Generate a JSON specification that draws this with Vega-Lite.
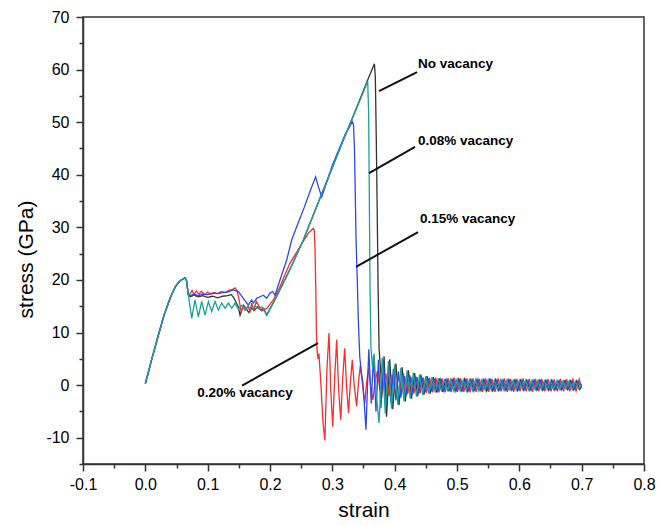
{
"$schema": "https://vega.github.io/schema/vega-lite/v6.json",
"width": 561, "height": 447,
"autosize": {"type": "none"},
"padding": {"left": 83, "top": 17, "right": 23, "bottom": 62},
"background": "white",
"config": {"view": {"stroke": "#333333", "strokeWidth": 1.5}, "font": "Liberation Sans"},
"datasets": {
"black": [{"x":0,"y":0.3},{"x":0.005,"y":2.5},{"x":0.01,"y":4.8},{"x":0.02,"y":9.1},{"x":0.03,"y":13.3},{"x":0.04,"y":16.6},{"x":0.048,"y":18.7},{"x":0.055,"y":19.8},{"x":0.0636,"y":20.4},{"x":0.066,"y":19.9},{"x":0.069,"y":17.2},
{"x":0.072,"y":16.8},{"x":0.078,"y":17.1},{"x":0.085,"y":16.8},{"x":0.092,"y":17.0},{"x":0.1,"y":16.7},{"x":0.108,"y":16.9},{"x":0.116,"y":16.6},{"x":0.124,"y":16.9},{"x":0.132,"y":17.0},{"x":0.138,"y":17.2},{"x":0.142,"y":16.6},{"x":0.146,"y":15.6},{"x":0.149,"y":14.9},{"x":0.152,"y":13.3},{"x":0.155,"y":14.4},{"x":0.158,"y":15.1},{"x":0.162,"y":14.5},{"x":0.166,"y":13.8},{"x":0.17,"y":14.7},{"x":0.175,"y":14.2},{"x":0.18,"y":14.9},{"x":0.185,"y":14.3},{"x":0.19,"y":14.6},{"x":0.1947,"y":13.3},{"x":0.21,"y":16.7},{"x":0.23,"y":21.5},{"x":0.2535,"y":27.6},{"x":0.28,"y":35.5},{"x":0.3,"y":41.4},{"x":0.32,"y":47.3},{"x":0.34,"y":53.1},{"x":0.3567,"y":58.0},{"x":0.3675,"y":61.1},{"x":0.369,"y":58.5},{"x":0.3705,"y":47},{"x":0.372,"y":33},{"x":0.3735,"y":18},{"x":0.375,"y":7},{"x":0.377,"y":3.5},{"x":0.38,"y":-1.5},{"x":0.383,"y":5.5},{"x":0.387,"y":-6.0},{"x":0.392,"y":4.9},{"x":0.397,"y":-4.6},{"x":0.402,"y":4.1},{"x":0.407,"y":-3.8},{"x":0.412,"y":3.4},{"x":0.417,"y":-3.1},{"x":0.422,"y":2.8},{"x":0.427,"y":-2.6},{"x":0.432,"y":2.3},{"x":0.437,"y":-2.1},{"x":0.442,"y":2.0},{"x":0.447,"y":-1.8},{"x":0.452,"y":1.7},{"x":0.457,"y":-1.6},{"x":0.462,"y":1.5},{"x":0.467,"y":-1.4},
{"x":0.472,"y":1.3},{"x":0.477,"y":-1.3},{"x":0.482,"y":1.2},{"x":0.487,"y":-1.2},{"x":0.492,"y":1.2},{"x":0.497,"y":-1.1},{"x":0.502,"y":1.1},{"x":0.507,"y":-1.2},{"x":0.512,"y":1.1},{"x":0.517,"y":-1.1},{"x":0.522,"y":1.0},{"x":0.527,"y":-1.1},{"x":0.532,"y":1.1},{"x":0.537,"y":-1.0},{"x":0.542,"y":1.0},{"x":0.547,"y":-1.1},{"x":0.552,"y":1.0},{"x":0.557,"y":-1.0},{"x":0.562,"y":1.0},{"x":0.567,"y":-1.0},{"x":0.572,"y":0.9},{"x":0.577,"y":-1.0},{"x":0.582,"y":1.0},{"x":0.587,"y":-0.9},{"x":0.592,"y":0.9},{"x":0.597,"y":-1.0},{"x":0.602,"y":0.9},{"x":0.607,"y":-0.9},{"x":0.612,"y":0.9},{"x":0.617,"y":-1.0},{"x":0.622,"y":0.9},{"x":0.627,"y":-0.9},{"x":0.632,"y":0.9},{"x":0.637,"y":-0.9},{"x":0.642,"y":0.8},{"x":0.647,"y":-0.9},{"x":0.652,"y":0.9},{"x":0.657,"y":-0.9},{"x":0.662,"y":0.8},{"x":0.667,"y":-0.9},{"x":0.672,"y":0.8},{"x":0.677,"y":-0.8},{"x":0.682,"y":0.8},{"x":0.687,"y":-0.9},{"x":0.692,"y":0.8},{"x":0.697,"y":-0.8},{"x":0.7,"y":0.0}],
"red": [{"x":0,"y":0.3},{"x":0.005,"y":2.5},{"x":0.01,"y":4.8},{"x":0.02,"y":9.1},{"x":0.03,"y":13.3},{"x":0.04,"y":16.6},{"x":0.048,"y":18.7},{"x":0.055,"y":19.8},{"x":0.0636,"y":20.4},{"x":0.066,"y":19.9},{"x":0.069,"y":17.2},
{"x":0.072,"y":17.4},{"x":0.075,"y":18.0},{"x":0.078,"y":17.2},{"x":0.082,"y":17.9},{"x":0.086,"y":17.3},{"x":0.09,"y":17.8},{"x":0.095,"y":17.2},{"x":0.1,"y":17.7},{"x":0.105,"y":17.3},{"x":0.11,"y":17.6},{"x":0.116,"y":17.4},{"x":0.122,"y":17.8},{"x":0.128,"y":17.6},{"x":0.134,"y":18.0},{"x":0.14,"y":18.2},{"x":0.144,"y":18.5},{"x":0.147,"y":18.0},{"x":0.15,"y":16.5},{"x":0.1537,"y":14.0},{"x":0.1575,"y":15.2},{"x":0.161,"y":14.3},{"x":0.1645,"y":15.0},{"x":0.168,"y":14.0},{"x":0.1706,"y":15.6},{"x":0.174,"y":14.3},{"x":0.178,"y":15.9},{"x":0.1866,"y":14.1},{"x":0.195,"y":14.6},{"x":0.2053,"y":16.2},{"x":0.216,"y":18.7},{"x":0.232,"y":23.2},{"x":0.248,"y":26.3},{"x":0.2615,"y":28.9},{"x":0.2695,"y":29.8},{"x":0.271,"y":29.4},{"x":0.2722,"y":26},{"x":0.2735,"y":18},{"x":0.2745,"y":10},{"x":0.2755,"y":6.7},{"x":0.277,"y":5.0},{"x":0.2785,"y":6.0},{"x":0.2815,"y":0.5},{"x":0.285,"y":-7},{"x":0.288,"y":-10.5},{"x":0.2915,"y":3.5},{"x":0.2947,"y":9.9},{"x":0.2975,"y":-1},{"x":0.3006,"y":-7.9},{"x":0.304,"y":2},{"x":0.307,"y":8.6},{"x":0.31,"y":-0.5},{"x":0.3134,"y":-6.6},{"x":0.3165,"y":1},{"x":0.3198,"y":7.0},{"x":0.323,"y":-0.5},{"x":0.326,"y":-5.3},{"x":0.329,"y":0.5},{"x":0.332,"y":4.8},{"x":0.3355,"y":-0.5},{"x":0.339,"y":-4.0},{"x":0.342,"y":0.5},{"x":0.345,"y":3.8},{"x":0.3485,"y":0},{"x":0.352,"y":-3.5},{"x":0.355,"y":0.5},{"x":0.358,"y":3.2},{"x":0.3615,"y":-0.3},{"x":0.365,"y":-2.8},{"x":0.3685,"y":0.4},{"x":0.372,"y":2.6},{"x":0.3755,"y":-0.2},{"x":0.379,"y":-2.4},{"x":0.3825,"y":0.3},{"x":0.386,"y":2.2},{"x":0.391,"y":-2.1},{"x":0.396,"y":2.0},{"x":0.401,"y":-1.9},{"x":0.406,"y":1.8},{"x":0.411,"y":-1.7},{"x":0.416,"y":1.7},{"x":0.421,"y":-1.6},{"x":0.426,"y":1.6},
{"x":0.431,"y":-1.5},{"x":0.436,"y":1.5},{"x":0.441,"y":-1.5},{"x":0.446,"y":1.4},{"x":0.451,"y":-1.5},{"x":0.456,"y":1.4},{"x":0.461,"y":-1.4},{"x":0.466,"y":1.4},{"x":0.471,"y":-1.4},{"x":0.476,"y":1.3},{"x":0.481,"y":-1.4},{"x":0.486,"y":1.3},{"x":0.491,"y":-1.3},{"x":0.496,"y":1.4},{"x":0.501,"y":-1.3},{"x":0.506,"y":1.3},{"x":0.511,"y":-1.3},{"x":0.516,"y":1.3},{"x":0.521,"y":-1.4},{"x":0.526,"y":1.3},{"x":0.531,"y":-1.3},{"x":0.536,"y":1.2},{"x":0.541,"y":-1.3},{"x":0.546,"y":1.3},{"x":0.551,"y":-1.3},{"x":0.556,"y":1.2},{"x":0.561,"y":-1.3},{"x":0.566,"y":1.3},{"x":0.571,"y":-1.2},{"x":0.576,"y":1.3},{"x":0.581,"y":-1.3},{"x":0.586,"y":1.2},{"x":0.591,"y":-1.3},{"x":0.596,"y":1.2},{"x":0.601,"y":-1.2},{"x":0.606,"y":1.3},{"x":0.611,"y":-1.2},{"x":0.616,"y":1.2},{"x":0.621,"y":-1.3},{"x":0.626,"y":1.2},{"x":0.631,"y":-1.2},{"x":0.636,"y":1.2},{"x":0.641,"y":-1.2},{"x":0.646,"y":1.2},{"x":0.651,"y":-1.2},{"x":0.656,"y":1.1},{"x":0.661,"y":-1.2},{"x":0.666,"y":1.2},{"x":0.671,"y":-1.2},{"x":0.676,"y":1.1},{"x":0.681,"y":-1.2},{"x":0.686,"y":1.1},{"x":0.691,"y":-1.1},{"x":0.696,"y":1.1},{"x":0.7,"y":-0.6}],
"blue": [{"x":0,"y":0.3},{"x":0.005,"y":2.5},{"x":0.01,"y":4.8},{"x":0.02,"y":9.1},{"x":0.03,"y":13.3},{"x":0.04,"y":16.6},{"x":0.048,"y":18.7},{"x":0.055,"y":19.8},{"x":0.0636,"y":20.4},{"x":0.066,"y":19.9},{"x":0.069,"y":17.2},
{"x":0.072,"y":17.0},{"x":0.078,"y":17.3},{"x":0.085,"y":17.0},{"x":0.092,"y":17.3},{"x":0.1,"y":17.2},{"x":0.108,"y":17.5},{"x":0.116,"y":17.4},{"x":0.124,"y":17.6},{"x":0.132,"y":17.7},{"x":0.141,"y":18.1},{"x":0.1492,"y":17.8},{"x":0.1572,"y":16.5},{"x":0.1652,"y":15.2},{"x":0.1706,"y":16.2},{"x":0.1733,"y":15.6},{"x":0.1787,"y":16.5},{"x":0.184,"y":16.8},{"x":0.1893,"y":17.1},{"x":0.1947,"y":16.5},{"x":0.2,"y":17.5},{"x":0.2043,"y":17.8},{"x":0.208,"y":17.1},{"x":0.216,"y":20.0},{"x":0.2268,"y":23.8},{"x":0.2348,"y":27.6},{"x":0.245,"y":30.8},{"x":0.255,"y":33.8},{"x":0.265,"y":37.1},{"x":0.2733,"y":39.6},{"x":0.2776,"y":37.7},{"x":0.283,"y":35.8},{"x":0.3,"y":41.8},{"x":0.32,"y":47.5},{"x":0.332,"y":50.1},{"x":0.334,"y":49.5},{"x":0.3355,"y":45},{"x":0.337,"y":35},{"x":0.338,"y":28},{"x":0.34,"y":20},{"x":0.3417,"y":12.4},{"x":0.344,"y":5.4},{"x":0.3465,"y":2.5},{"x":0.349,"y":0.5},{"x":0.351,"y":-3},{"x":0.354,"y":-8.5},{"x":0.3585,"y":6.8},{"x":0.3625,"y":-3.5},{"x":0.366,"y":5.5},{"x":0.37,"y":-5.0},{"x":0.374,"y":4.8},{"x":0.378,"y":-4.4},{"x":0.382,"y":4.2},{"x":0.386,"y":-3.9},{"x":0.39,"y":3.6},{"x":0.394,"y":-3.4},{"x":0.398,"y":3.1},{"x":0.402,"y":-2.9},{"x":0.406,"y":2.6},{"x":0.41,"y":-2.4},{"x":0.414,"y":2.2},{"x":0.419,"y":-2.0},{"x":0.424,"y":1.9},{"x":0.429,"y":-1.7},{"x":0.434,"y":1.6},{"x":0.439,"y":-1.5},{"x":0.444,"y":1.4},{"x":0.449,"y":-1.3},{"x":0.454,"y":1.3},{"x":0.459,"y":-1.2},{"x":0.464,"y":1.2},
{"x":0.469,"y":-1.1},{"x":0.474,"y":1.1},{"x":0.479,"y":-1.1},{"x":0.484,"y":1.1},{"x":0.489,"y":-1.0},{"x":0.494,"y":1.1},{"x":0.499,"y":-1.0},{"x":0.504,"y":1.0},{"x":0.509,"y":-1.0},{"x":0.514,"y":1.0},{"x":0.519,"y":-1.0},{"x":0.524,"y":1.0},{"x":0.529,"y":-0.9},{"x":0.534,"y":1.0},{"x":0.539,"y":-0.9},{"x":0.544,"y":0.9},{"x":0.549,"y":-0.9},{"x":0.554,"y":1.0},{"x":0.559,"y":-0.9},{"x":0.564,"y":0.9},{"x":0.569,"y":-0.9},{"x":0.574,"y":0.9},{"x":0.579,"y":-0.9},{"x":0.584,"y":0.9},{"x":0.589,"y":-0.8},{"x":0.594,"y":0.9},{"x":0.599,"y":-0.8},{"x":0.604,"y":0.9},{"x":0.609,"y":-0.8},{"x":0.614,"y":0.8},{"x":0.619,"y":-0.8},{"x":0.624,"y":0.9},{"x":0.629,"y":-0.8},{"x":0.634,"y":0.8},{"x":0.639,"y":-0.8},{"x":0.644,"y":0.8},{"x":0.649,"y":-0.8},{"x":0.654,"y":0.8},{"x":0.659,"y":-0.7},{"x":0.664,"y":0.8},{"x":0.669,"y":-0.7},{"x":0.674,"y":0.8},{"x":0.679,"y":-0.7},{"x":0.684,"y":0.7},{"x":0.689,"y":-0.7},{"x":0.694,"y":0.7},{"x":0.699,"y":-0.3}],
"teal": [{"x":0,"y":0.3},{"x":0.005,"y":2.5},{"x":0.01,"y":4.8},{"x":0.02,"y":9.1},{"x":0.03,"y":13.3},{"x":0.04,"y":16.6},{"x":0.048,"y":18.7},{"x":0.055,"y":19.8},{"x":0.0636,"y":20.4},{"x":0.066,"y":19.9},{"x":0.069,"y":17.2},
{"x":0.0744,"y":12.7},{"x":0.0797,"y":16.2},{"x":0.0851,"y":13.0},{"x":0.0904,"y":15.9},{"x":0.0958,"y":13.3},{"x":0.1011,"y":15.9},{"x":0.1065,"y":14.0},{"x":0.1118,"y":15.9},{"x":0.1172,"y":14.3},{"x":0.1225,"y":15.6},{"x":0.1279,"y":14.6},{"x":0.1332,"y":15.6},{"x":0.1386,"y":14.6},{"x":0.1439,"y":15.6},{"x":0.149,"y":14.5},{"x":0.155,"y":15.2},{"x":0.16,"y":14.2},{"x":0.165,"y":15.0},{"x":0.171,"y":14.3},{"x":0.176,"y":15.0},{"x":0.181,"y":14.6},{"x":0.187,"y":14.9},{"x":0.1947,"y":13.3},{"x":0.21,"y":16.7},{"x":0.23,"y":21.5},{"x":0.2535,"y":27.6},{"x":0.28,"y":35.5},{"x":0.3,"y":41.4},{"x":0.32,"y":47.3},{"x":0.34,"y":52.9},{"x":0.3567,"y":57.8},{"x":0.3582,"y":52},{"x":0.3594,"y":35},{"x":0.3605,"y":18},{"x":0.362,"y":7},{"x":0.3645,"y":3.5},{"x":0.367,"y":6.0},{"x":0.371,"y":-2.5},{"x":0.375,"y":-7.2},{"x":0.38,"y":5.2},{"x":0.385,"y":-5.4},{"x":0.39,"y":4.6},{"x":0.395,"y":-4.5},{"x":0.4,"y":3.9},{"x":0.405,"y":-3.7},{"x":0.41,"y":3.3},{"x":0.415,"y":-3.1},{"x":0.42,"y":2.8},{"x":0.425,"y":-2.6},{"x":0.43,"y":2.4},{"x":0.435,"y":-2.2},{"x":0.44,"y":2.0},{"x":0.445,"y":-1.9},{"x":0.45,"y":1.7},{"x":0.455,"y":-1.6},{"x":0.46,"y":1.5},{"x":0.465,"y":-1.4},{"x":0.47,"y":1.3},
{"x":0.475,"y":-1.2},{"x":0.48,"y":1.2},{"x":0.485,"y":-1.2},{"x":0.49,"y":1.1},{"x":0.495,"y":-1.1},{"x":0.5,"y":1.1},{"x":0.505,"y":-1.1},{"x":0.51,"y":1.0},{"x":0.515,"y":-1.1},{"x":0.52,"y":1.0},{"x":0.525,"y":-1.0},{"x":0.53,"y":1.0},{"x":0.535,"y":-1.0},{"x":0.54,"y":1.0},{"x":0.545,"y":-0.9},{"x":0.55,"y":1.0},{"x":0.555,"y":-1.0},{"x":0.56,"y":0.9},{"x":0.565,"y":-0.9},{"x":0.57,"y":1.0},{"x":0.575,"y":-0.9},{"x":0.58,"y":0.9},{"x":0.585,"y":-0.9},{"x":0.59,"y":0.9},{"x":0.595,"y":-0.9},{"x":0.6,"y":0.9},{"x":0.605,"y":-0.8},{"x":0.61,"y":0.9},{"x":0.615,"y":-0.9},{"x":0.62,"y":0.8},{"x":0.625,"y":-0.8},{"x":0.63,"y":0.9},{"x":0.635,"y":-0.8},{"x":0.64,"y":0.8},{"x":0.645,"y":-0.8},{"x":0.65,"y":0.8},{"x":0.655,"y":-0.8},{"x":0.66,"y":0.8},{"x":0.665,"y":-0.8},{"x":0.67,"y":0.8},{"x":0.675,"y":-0.7},{"x":0.68,"y":0.8},{"x":0.685,"y":-0.8},{"x":0.69,"y":0.7},{"x":0.695,"y":-0.7},{"x":0.7,"y":0.2}],
"leaders": [{"x":0.3749,"y":55.9,"x2":0.4359,"y2":59.5},{"x":0.3589,"y":40.3,"x2":0.4327,"y2":45.3},{"x":0.338,"y":22.5,"x2":0.4375,"y2":29.1},{"x":0.1551,"y":-0.1,"x2":0.277,"y2":8.0}],
"labels": [{"x":0.4375,"y":61.1,"label":"No vacancy"},{"x":0.4375,"y":46.4,"label":"0.08% vacancy"},{"x":0.4407,"y":31.6,"label":"0.15% vacancy"},{"x":0.0834,"y":-1.5,"label":"0.20% vacancy"}]
},
"encoding": {
"x": {"field": "x", "type": "quantitative", "scale": {"domain": [-0.1, 0.8], "nice": false, "zero": false},
 "axis": {"title": "strain", "values": [-0.1,-0.05,0,0.05,0.1,0.15,0.2,0.25,0.3,0.35,0.4,0.45,0.5,0.55,0.6,0.65,0.7,0.75,0.8],
  "labelExpr": "round(datum.value*100) % 10 === 0 ? (datum.value < 0 ? '-' : '') + format(abs(datum.value), '.1f') : ''",
  "tickSize": {"condition": {"test": "round(datum.value*100) % 10 !== 0", "value": 4}, "value": 7},
  "grid": false, "domainColor": "#333333", "domainWidth": 1.5, "tickColor": "#333333", "tickWidth": 1.5,
  "labelFontSize": 16, "labelColor": "#000000", "labelPadding": 5, "labelFlush": false, "labelOverlap": false,
  "titleFontSize": 21, "titleFontWeight": "normal", "titleColor": "#000000", "titlePadding": 7}},
"y": {"field": "y", "type": "quantitative", "scale": {"domain": [-15, 70], "nice": false, "zero": false},
 "axis": {"title": "stress (GPa)", "values": [-15,-10,-5,0,5,10,15,20,25,30,35,40,45,50,55,60,65,70],
  "labelExpr": "datum.value % 10 === 0 ? '' + datum.value : ''",
  "tickSize": {"condition": {"test": "datum.value % 10 !== 0", "value": 4}, "value": 7},
  "grid": false, "domainColor": "#333333", "domainWidth": 1.5, "tickColor": "#333333", "tickWidth": 1.5,
  "labelFontSize": 16, "labelColor": "#000000", "labelPadding": 7, "labelOverlap": false,
  "titleFontSize": 21, "titleFontWeight": "normal", "titleColor": "#000000", "titlePadding": 9, "titleY": 242}}
},
"layer": [
{"data": {"name": "black"}, "mark": {"type": "line", "color": "#333333", "strokeWidth": 1.3}},
{"data": {"name": "red"}, "mark": {"type": "line", "color": "#ff2a2a", "strokeWidth": 1.3}},
{"data": {"name": "blue"}, "mark": {"type": "line", "color": "#2c48f5", "strokeWidth": 1.3}},
{"data": {"name": "teal"}, "mark": {"type": "line", "color": "#17a39a", "strokeWidth": 1.3}},
{"data": {"name": "leaders"}, "mark": {"type": "rule", "color": "#111111", "strokeWidth": 2}, "encoding": {"x2": {"field": "x2"}, "y2": {"field": "y2"}}},
{"data": {"name": "labels"}, "mark": {"type": "text", "align": "left", "baseline": "middle", "fontWeight": "bold", "fontSize": 13.5, "font": "Liberation Sans", "color": "#000000"}, "encoding": {"text": {"field": "label"}}}
]
}
